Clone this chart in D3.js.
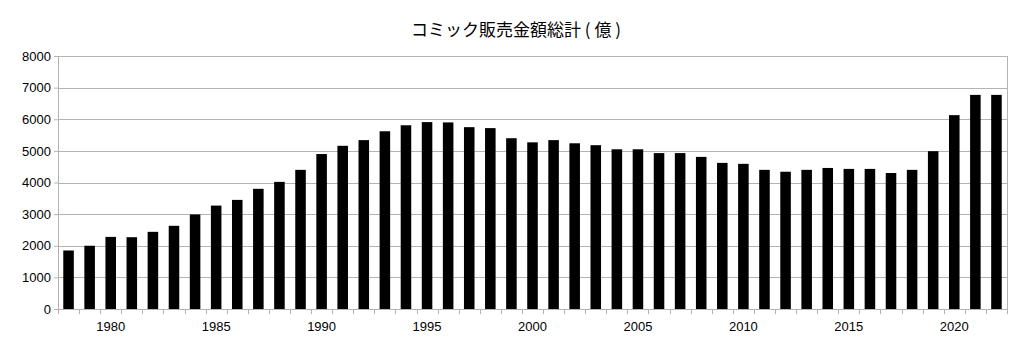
<!DOCTYPE html>
<html>
<head>
<meta charset="utf-8">
<script src="https://cdn.jsdelivr.net/npm/d3@7"></script>
<style>
	body { margin: 0; background: #fff; }
	text { font-family: "Liberation Sans", Arial, sans-serif; }
</style>
</head>
<body>
<div id="chart"></div>
<script>
var years = d3.range(1978, 2023);
var values = [1850, 2000, 2280, 2270, 2440, 2630, 2990, 3270, 3450, 3800,
	4020, 4400, 4900, 5160, 5340, 5620, 5810, 5910, 5900, 5750,
	5720, 5400, 5270, 5340, 5240, 5180, 5050, 5050, 4930, 4930,
	4810, 4620, 4590, 4400, 4340, 4400, 4460, 4430, 4430, 4300,
	4400, 4990, 6130, 6770, 6770];
var yTicks = [0, 1000, 2000, 3000, 4000, 5000, 6000, 7000, 8000];
var xLabels = [1980, 1985, 1990, 1995, 2000, 2005, 2010, 2015, 2020];
var title = 'コミック販売金額総計 ( 億 )';

var width = 1028,
	height = 340;
var margin = {top: 56, right: 21, bottom: 31, left: 58};
var gridColor = '#b3b3b3';

var svg = d3.select('#chart').append('svg')
	.attr('width', width)
	.attr('height', height);

var w = width - margin.left - margin.right,
	h = height - margin.top - margin.bottom;

var x = d3.scaleBand()
	.domain(years)
	.range([0, w])
	.paddingInner(0.5)
	.paddingOuter(0.25);

var y = d3.scaleLinear()
	.domain([0, 8000])
	.range([h, 0]);

var g = svg.append('g')
	.attr('transform', 'translate(' + margin.left + ',' + margin.top + ')');

// title
svg.append('text')
	.attr('x', 516)
	.attr('y', 36)
	.attr('text-anchor', 'middle')
	.style('font-family', '"Noto Sans CJK JP", sans-serif')
	.style('font-size', '17px')
	.attr('fill', '#000')
	.text(title);

// grid
g.selectAll('.grid')
	.data(yTicks)
	.enter().append('line')
	.attr('class', 'grid')
	.attr('x1', 0)
	.attr('x2', w)
	.attr('y1', function(d) { return Math.round(y(d)) + 0.5; })
	.attr('y2', function(d) { return Math.round(y(d)) + 0.5; })
	.attr('stroke', gridColor);

// right border
g.append('line')
	.attr('x1', w + 0.5).attr('x2', w + 0.5)
	.attr('y1', 0).attr('y2', h)
	.attr('stroke', gridColor);

// y axis
var yAxis = g.append('g')
	.call(d3.axisLeft(y).tickValues(yTicks).tickFormat(d3.format('d'))
		.tickSize(4).tickSizeOuter(0).tickPadding(3));
yAxis.select('.domain').attr('stroke', gridColor);
yAxis.selectAll('.tick line').attr('stroke', gridColor);
yAxis.selectAll('text').style('font-size', '13px').attr('fill', '#000');

// bars
g.selectAll('.bar')
	.data(values)
	.enter().append('rect')
	.attr('class', 'bar')
	.attr('fill', '#000')
	.attr('x', function(d, i) { return x(years[i]); })
	.attr('width', x.bandwidth())
	.attr('y', function(d) { return y(d); })
	.attr('height', function(d) { return h - y(d); });

// x axis: ticks at band edges
var step = x.step();
var xa = g.append('g').attr('transform', 'translate(0,' + h + ')');
xa.append('line')
	.attr('x1', 0).attr('x2', w)
	.attr('y1', 0.5).attr('y2', 0.5)
	.attr('stroke', gridColor);
xa.selectAll('.xt')
	.data(d3.range(years.length + 1))
	.enter().append('line')
	.attr('class', 'xt')
	.attr('x1', function(i) { return Math.round(i * step) + 0.5; })
	.attr('x2', function(i) { return Math.round(i * step) + 0.5; })
	.attr('y1', 0)
	.attr('y2', 5)
	.attr('stroke', gridColor);
xa.selectAll('.xl')
	.data(xLabels)
	.enter().append('text')
	.attr('class', 'xl')
	.attr('x', function(d) { return x(d) + x.bandwidth() / 2; })
	.attr('y', 22)
	.attr('text-anchor', 'middle')
	.style('font-size', '13px')
	.attr('fill', '#000')
	.text(function(d) { return d; });
</script>
</body>
</html>
